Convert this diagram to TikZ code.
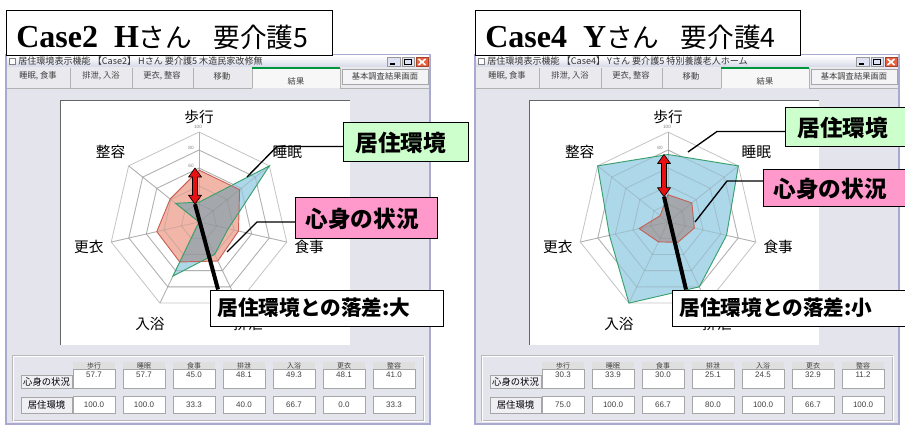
\documentclass[tikz,border=0pt]{standalone}
\usepackage{fontspec}
\setmainfont{Liberation Serif}
\setsansfont{Liberation Sans}
\newfontfamily\jpfont{Noto Sans CJK JP}
\usetikzlibrary{calc}

\definecolor{winframe}{RGB}{170,170,208}
\definecolor{winface}{RGB}{228,228,236}
\definecolor{barface}{RGB}{214,216,232}
\definecolor{tabface}{RGB}{234,234,238}
\definecolor{btnface}{RGB}{222,226,242}
\definecolor{closered}{RGB}{232,96,60}
\definecolor{tabgreen}{RGB}{0,150,60}
\definecolor{gridgray}{RGB}{196,196,196}
\definecolor{mindfill}{RGB}{242,182,168}
\definecolor{mindline}{RGB}{200,96,86}
\definecolor{envfill}{RGB}{172,216,234}
\definecolor{envline}{RGB}{56,160,108}
\definecolor{bothfill}{RGB}{164,168,172}
\definecolor{envbox}{RGB}{204,255,204}
\definecolor{mindbox}{RGB}{255,153,204}
\definecolor{gapred}{RGB}{232,16,16}

% window: #1 name, #2 shift (px), #3 title bar, #4 mind values, #5 env values (chart), #6 env values (table)
\newcommand{\appwindow}[6]{%
\begin{scope}[xshift=#2*0.75pt]
%Shape: Window frame
\draw[draw=winframe, line width=1.5, fill=winface] (6,55) rectangle (430,424);
%Title bar
\shade[top color=white, bottom color=barface] (7,56) rectangle (429,67);
\draw[gray, fill=white] (9,58.5) rectangle (15,64.5);
\node[wintext, anchor=west] (#1-bar) at (18,61.5) {#3};
\draw[gray!80, fill=btnface] (387,57.5) rectangle (400,66.5);
\draw[gray!80, fill=btnface] (402,57.5) rectangle (414,66.5);
\draw[draw=closered!70!black, fill=closered] (416,57.5) rectangle (428,66.5);
\draw[line width=1] (390,64) -- (395,64);
\draw[line width=0.6] (404.5,59.5) rectangle (411.5,64.5);
\draw[white, line width=1.2] (418.5,59) -- (425.5,65) (418.5,65) -- (425.5,59);
%Tabs
\fill[tabface] (7,67) rectangle (429,88);
\draw[gray!60] (7,88) -- (252,88) (340,88) -- (429,88);
\foreach \xx in {70,132,193,252,340} \draw[gray!60] (\xx,68) -- (\xx,88);
\fill[white!60!tabface] (252.5,69) rectangle (339.5,88.5);
\draw[tabgreen, line width=2] (252,68) -- (340,68);
\foreach \tx/\tl in {38/{睡眠, 食事},101/{排泄, 入浴},162/{更衣, 整容},222/{移動}}
  \node[tabtext] (#1-tab\tx) at (\tx,76) {\tl};
\node[tabtext] (#1-tabres) at (296,81) {結果};
\draw[gray!70, fill=white!50!tabface] (342,69) rectangle (428,84);
\node[tabtext] (#1-btn) at (385,76.5) {基本調査結果画面};
%Chart area
\fill[white] (60,100) rectangle (350,345);
\draw[gray!80!black] (60,345) -- (60,100) -- (350,100);
\begin{scope}[shift={(199,222)}]
\coordinate (#1-c) at (0,0);
\foreach \r in {18,36,54,72,90}
  \draw[gridring] (-90:\r) \foreach \k in {1,...,6}{ -- ({-90+\k*360/7}:\r)} -- cycle;
\foreach \k in {0,...,6} \draw[gridring] (#1-c) -- ({-90+\k*360/7}:90);
\node[ticktext] (#1-t100) at (-1,-95) {100};
\foreach \t in {20,40,60,80} \node[ticktext] (#1-t\t) at (-8,{-0.9*\t-2}) {\t};
\foreach \lab [count=\k from 0, evaluate=\k as \rr using {\k==0 ? 105 : 113}] in {歩行,睡眠,食事,排泄,入浴,更衣,整容}
  \node[axislabel] (#1-ax\k) at ({-90+\k*360/7}:\rr) {\lab};
\foreach \v [count=\k from 0] in {#4} \coordinate (#1-m\k) at ({-90+\k*360/7}:{0.9*\v});
\foreach \v [count=\k from 0] in {#5} \coordinate (#1-e\k) at ({-90+\k*360/7}:{0.9*\v});
\end{scope}
%Data polygons
\fill[mindfill] (#1-m0) \foreach \k in {1,...,6}{ -- (#1-m\k)} -- cycle;
\fill[envfill] (#1-e0) \foreach \k in {1,...,6}{ -- (#1-e\k)} -- cycle;
\begin{scope}
\clip (#1-m0) \foreach \k in {1,...,6}{ -- (#1-m\k)} -- cycle;
\fill[bothfill] (#1-e0) \foreach \k in {1,...,6}{ -- (#1-e\k)} -- cycle;
\end{scope}
\begin{scope}[shift={(199,222)}, draw opacity=0.3]
\foreach \r in {18,36,54,72}
  \draw[gridring, draw=gray] (-90:\r) \foreach \k in {1,...,6}{ -- ({-90+\k*360/7}:\r)} -- cycle;
\foreach \k in {0,...,6} \draw[gridring, draw=gray] (0,0) -- ({-90+\k*360/7}:90);
\end{scope}
\draw[mindpoly] (#1-m0) \foreach \k in {1,...,6}{ -- (#1-m\k)} -- cycle;
\draw[envpoly] (#1-e0) \foreach \k in {1,...,6}{ -- (#1-e\k)} -- cycle;
%Table
\draw[gray!55] (12,355) rectangle (423,420);
\draw[white] (13,356) rectangle (424,421);
\node[rowhead, minimum height=9.75pt] (#1-rowmind) at (46.5,382) {心身の状況};
\node[rowhead, minimum height=12pt] (#1-rowenv) at (46.5,405) {居住環境};
\foreach \lab [count=\k from 0] in {歩行,睡眠,食事,排泄,入浴,更衣,整容} {
  \fill[gray!25] ({73+50*\k},362) rectangle ({115+50*\k},369);
  \node[headtext] (#1-h\k) at ({94+50*\k},365.5) {\lab};
}
\foreach \v [count=\k from 0] in {#4}
  \node[valbox, minimum height=14.25pt, text depth=5pt] (#1-vm\k) at ({94+50*\k},378.5) {\v};
\foreach \v [count=\k from 0] in {#6}
  \node[valbox, minimum height=12.75pt] (#1-ve\k) at ({94+50*\k},404.5) {\v};
\end{scope}}

% double arrow between two points, #1 upper, #2 lower
\newcommand{\gaparrow}[2]{%
\draw[gaparrowshape] (#1) -- ++(6.5,9) -- ++(-4,0) -- ($(#2)+(2.5,-9)$) -- ++(4,0) -- (#2)
  -- ++(-6.5,-9) -- ++(4,0) -- ($(#1)+(-2.5,9)$) -- ++(-4,0) -- cycle;}

\begin{document}
\begin{tikzpicture}[x=0.75pt,y=0.75pt,yscale=-1,xscale=1,
  wintext/.style={font=\jpfont\fontsize{6.8}{7}\selectfont, inner sep=0pt, text=black!80},
  tabtext/.style={font=\jpfont\fontsize{6.2}{7}\selectfont, inner sep=0pt, text=black!75},
  axislabel/.style={font=\jpfont\fontsize{11}{12}\selectfont, inner sep=0pt},
  ticktext/.style={font=\sffamily\fontsize{3.5}{4}\selectfont, inner sep=0pt, text=gray},
  gridring/.style={draw=gridgray, line width=0.6pt},
  mindpoly/.style={draw=mindline, line width=0.7pt},
  envpoly/.style={draw=envline, line width=0.7pt},
  rowhead/.style={draw=gray!70, fill=white!40!winface, minimum width=38.25pt, inner sep=0pt, font=\jpfont\fontsize{7}{8}\selectfont},
  headtext/.style={font=\jpfont\fontsize{5.2}{6}\selectfont, inner sep=0pt, text=black!75},
  valbox/.style={draw=gray!70, fill=white, minimum width=31.5pt, inner sep=0pt, font=\sffamily\fontsize{6}{7}\selectfont, text=black!75},
  callout/.style={draw=black, line width=0.75pt, anchor=west, align=left, inner ysep=0pt, font=\jpfont\bfseries\fontsize{17}{18}\selectfont},
  leader/.style={draw=black, line width=1pt},
  gapline/.style={draw=black, line width=3pt},
  gaparrowshape/.style={draw=black, fill=gapred, line width=0.5pt, line join=round},
  headline/.style={anchor=base west, inner sep=0pt, font=\fontsize{24}{24}\selectfont}]
\useasboundingbox (0,0) rectangle (905,427);

%Left case
\appwindow{L}{0}{居住環境表示機能 【Case2】 Hさん 要介護5 木造民家改修無}{57.7,57.7,45.0,48.1,49.3,48.1,41.0}{22,100,33.3,40.0,66.7,0,33.3}{100.0,100.0,33.3,40.0,66.7,0.0,33.3}
%Right case
\appwindow{R}{469}{居住環境表示機能 【Case4】 Yさん 要介護5 特別養護老人ホーム}{30.3,33.9,30.0,25.1,24.5,32.9,11.2}{75.0,100.0,66.7,80.0,100.0,66.7,100.0}{75.0,100.0,66.7,80.0,100.0,66.7,100.0}

%Heading boxes
\draw[fill=white] (6,10) rectangle (332,55);
\node[headline] (L-title) at (16,48) {\textbf{Case2}\ \ \textbf{H}{\jpfont\fontsize{20}{20}\selectfont さん\hspace{0.8em}要介護5}};
\draw[fill=white] (475,10) rectangle (800,55);
\node[headline] (R-title) at (485,48) {\textbf{Case4}\ \ \textbf{Y}{\jpfont\fontsize{20}{20}\selectfont さん\hspace{0.8em}要介護4}};

% Text Node
\node[callout, fill=envbox, minimum height=29.25pt, inner xsep=9pt, text width=75.75pt] (L-env) at (343,142.5) {居住環境};
\node[callout, fill=mindbox, minimum height=30.75pt, inner xsep=7.5pt, text width=91.5pt] (L-mind) at (295,218.5) {心身の状況};
\node[callout, fill=white, minimum height=27pt, inner xsep=5.25pt, text width=164.25pt, font=\jpfont\bfseries\fontsize{15.5}{16}\selectfont] (L-gap) at (210,308) {居住環境との落差:大};
\node[callout, fill=envbox, minimum height=29.25pt, inner xsep=9pt, text width=75.75pt] (R-env) at (785,127.5) {居住環境};
\node[callout, fill=mindbox, minimum height=27.75pt, inner xsep=7.5pt, text width=91.5pt] (R-mind) at (763,188.5) {心身の状況};
\node[callout, fill=white, minimum height=27pt, inner xsep=5.25pt, text width=164.25pt, font=\jpfont\bfseries\fontsize{15.5}{16}\selectfont] (R-gap) at (672,308) {居住環境との落差:小};

%Leader lines
\coordinate (L-envtip) at (247,177);
\coordinate (L-mindtip) at (227,252);
\coordinate (R-envtip) at (688,152);
\coordinate (R-mindtip) at (695,222);
\draw[leader] ($(L-env.west)+(0,4)$) -- ++(-66,0) -- (L-envtip);
\draw[leader] ($(L-mind.west)+(0,3.5)$) -- ++(-38,0) -- (L-mindtip);
\draw[leader] ($(R-env.west)+(0,4)$) -- ++(-68,0) -- (R-envtip);
\draw[leader] ($(R-mind.west)+(0,-7.5)$) -- ++(-36,0) -- (R-mindtip);

%Gap arrows
\coordinate (L-top) at ($(L-m0)+(-4,-2)$);
\coordinate (L-bot) at ($(L-e0)+(-4,2)$);
\coordinate (R-top) at ($(R-e0)+(-4,0)$);
\coordinate (R-bot) at ($(R-m0)+(-4,2)$);
\draw[gapline] (L-bot) -- ($(L-gap.north west)+(8,0)$);
\draw[gapline] (R-bot) -- ($(R-gap.north west)+(14,0)$);
\gaparrow{L-top}{L-bot}
\gaparrow{R-top}{R-bot}

\end{tikzpicture}
\end{document}
